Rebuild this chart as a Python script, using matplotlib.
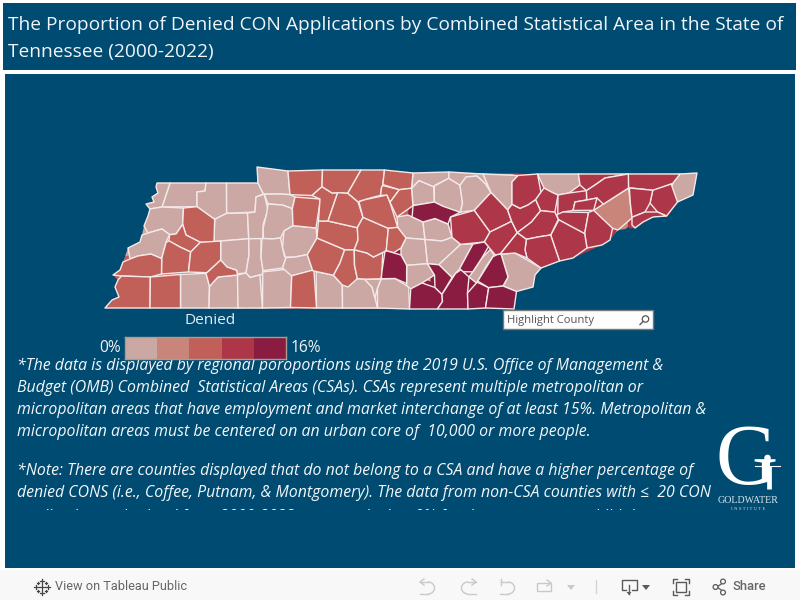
import numpy as np
import matplotlib
matplotlib.use('Agg')
import matplotlib.pyplot as plt
from matplotlib.collections import PolyCollection
from matplotlib.colors import ListedColormap, BoundaryNorm
from matplotlib.patches import Rectangle, Circle, Arc, Polygon

NAVY = '#004B71'
FONT = 'Open Sans'

title_lines = ['The Proportion of Denied CON Applications by Combined Statistical Area in the State of',
               'Tennessee (2000-2022)']
note_lines_1 = ['*The data is displayed by regional poroportions using the 2019 U.S. Office of Management &',
                'Budget (OMB) Combined  Statistical Areas (CSAs). CSAs represent multiple metropolitan or',
                'micropolitan areas that have employment and market interchange of at least 15%. Metropolitan &',
                'micropolitan areas must be centered on an urban core of  10,000 or more people.']
note_lines_2 = ['*Note: There are counties displayed that do not belong to a CSA and have a higher percentage of',
                'denied CONS (i.e., Coffee, Putnam, & Montgomery). The data from non-CSA counties with \u2264  20 CON']
note_cut_line = 'applications submitted from 2000-2022 were marked as 0% for the purpose to prohibit inaccurate'

# color bins, percent denied
bin_edges = [0, 3.2, 6.4, 9.6, 12.8, 16]
bin_colors = ['#CCA8A5', '#C98579', '#C16058', '#AD3649', '#8A1C41']

# estimated denied share for each group of counties below
denied_low = 1.6
denied_lowmid = 4.8
denied_mid = 8.0
denied_high = 11.2
denied_top = 14.4

# state border, keeps the filled county seams inside the map
state_outline = [(157,183),(257,183),(257,167),(288,171),(360,170),(413,173),(538,174),(697,173),(693,195),(678,202),
                 (668,216),(653,217),(635,228),(618,230),(610,240),(602,245),(573,258),(559,260),(542,268),(535,275),
                 (533,287),(518,291),(515,292),(514,309),(410,309),(105,308),(112,300),(119,297),(115,287),(118,280),
                 (113,275),(120,270),(123,262),(128,248),(140,242),(142,235),(144,226),(148,216),(150,209),(146,204),
                 (154,202),(152,197),(158,193),(156,187)]

counties_low = [
    [(170,183),(206,183),(205,191),(197,192),(197,207),(162,207)],
    [(157,183),(170,183),(162,207),(150,209),(146,204),(154,202),(152,197),(158,193),(156,187)],
    [(206,183),(226,183),(226,215),(215,219),(205,210),(197,205),(197,192),(205,191)],
    [(227,183),(258,183),(262,193),(256,197),(255,212),(227,212)],
    [(150,209),(162,207),(183,208),(182,223),(175,234),(169,234),(162,229),(148,233),(144,226),(148,216)],
    [(215,220),(227,213),(247,213),(247,239),(221,240),(214,242)],
    [(248,213),(255,212),(256,197),(265,194),(268,210),(262,223),(262,238),(248,238)],
    [(257,167),(288,171),(290,195),(280,193),(272,197),(265,194),(260,193),(258,183)],
    [(265,196),(280,195),(290,193),(295,197),(292,208),(282,205),(268,203)],
    [(268,205),(283,205),(292,209),(293,225),(285,230),(281,238),(272,238),(265,238),(261,228),(268,215)],
    [(148,233),(162,229),(170,235),(165,242),(162,258),(152,254),(145,257),(138,256),(130,259),(128,248),(140,242),(142,235)],
    [(181,273),(205,273),(208,285),(209,308),(181,308)],
    [(210,288),(218,277),(237,277),(237,308),(209,308)],
    [(221,240),(249,240),(249,253),(246,273),(237,273),(237,269),(227,267),(221,260)],
    [(251,238),(260,239),(261,257),(263,270),(260,275),(250,277),(246,272),(249,257)],
    [(239,275),(246,274),(250,278),(260,276),(262,308),(239,308)],
    [(263,272),(290,269),(292,275),(290,307),(263,308)],
    [(261,240),(266,239),(272,240),(280,238),(282,257),(286,258),(282,268),(263,270),(261,257)],
    [(283,232),(293,226),(315,228),(317,238),(310,248),(307,254),(295,257),(285,257),(280,248)],
    [(287,258),(295,257),(307,255),(312,270),(295,275),(288,277),(283,268)],
    [(317,272),(333,275),(335,277),(342,285),(342,308),(317,308)],
    [(343,287),(357,279),(363,279),(372,287),(375,298),(377,308),(343,308)],
    [(378,308),(378,288),(382,279),(395,279),(408,288),(409,309)],
    [(363,279),(370,281),(381,279),(377,288),(375,298),(372,287)],
    [(412,188),(418,181),(433,188),(433,202),(422,206),(412,205)],
    [(413,173),(448,172),(448,178),(435,183),(433,187),(420,180),(412,188)],
    [(450,172),(483,174),(492,192),(485,183),(477,176),(465,177),(460,185),(455,179),(450,178)],
    [(435,185),(448,179),(458,186),(462,203),(460,212),(450,212),(435,202)],
    [(462,185),(467,177),(477,176),(486,185),(490,193),(475,210),(461,212),(463,203)],
    [(483,174),(518,175),(512,182),(512,203),(508,210),(495,200),(490,192)],
    [(397,217),(408,215),(423,222),(423,238),(405,238),(398,227)],
    [(402,248),(408,238),(425,240),(427,263),(407,265),(402,255)],
    [(407,266),(427,264),(434,275),(422,283),(413,290),(406,285)],
    [(423,222),(435,218),(448,225),(452,238),(442,241),(425,240)],
    [(427,240),(442,241),(452,239),(460,245),(438,263),(427,264)],
    [(438,263),(460,245),(473,245),(458,268),(452,277),(440,266)],
    [(492,248),(494,255),(487,267),(477,285),(468,277),(477,268),(483,257)],
    [(502,255),(515,253),(540,268),(535,275),(533,287),(518,291),(503,285),(508,277)],
    [(538,174),(577,174),(580,185),(568,193),(558,195),(550,188),(543,188)],
    [(680,174),(697,173),(693,195),(678,202),(670,193),(675,183)],
]
counties_lowmid = [
    [(595,210),(629,190),(630,215),(633,219),(618,230),(612,225)],
]
counties_mid = [
    [(184,208),(197,208),(214,219),(214,242),(200,242),(186,235),(183,225)],
    [(183,225),(186,235),(200,242),(192,252),(180,247),(170,240),(170,235),(177,234)],
    [(169,240),(180,247),(190,252),(188,272),(162,274),(162,258),(165,242)],
    [(130,259),(138,256),(150,254),(161,260),(161,274),(150,277),(142,275),(123,276),(113,275),(120,270),(123,262)],
    [(120,276),(150,277),(149,308),(105,308),(112,300),(119,297),(115,287),(118,280)],
    [(151,277),(180,276),(180,308),(151,308)],
    [(201,243),(220,243),(220,260),(208,272),(189,272),(190,252)],
    [(221,260),(227,267),(237,269),(237,275),(218,277),(213,280),(212,287),(208,285),(205,275),(210,271)],
    [(292,276),(312,271),(315,272),(316,308),(291,308)],
    [(308,255),(312,270),(333,274),(340,263),(344,250),(317,238)],
    [(345,250),(354,250),(354,267),(357,278),(348,287),(342,283),(333,275),(340,263)],
    [(355,251),(367,253),(372,257),(382,253),(382,272),(380,279),(367,279),(358,279),(355,263)],
    [(317,222),(328,222),(357,228),(358,240),(353,248),(345,249),(317,238)],
    [(293,209),(295,197),(320,199),(320,205),(317,228),(293,226)],
    [(288,171),(322,170),(322,187),(312,195),(290,196)],
    [(322,187),(332,193),(337,193),(328,220),(320,220),(320,199),(312,196),(317,188)],
    [(323,170),(360,170),(352,187),(347,195),(338,192),(332,193),(322,186)],
    [(362,170),(384,170),(383,185),(381,188),(380,195),(375,196),(362,202),(357,202),(348,192),(353,183)],
    [(338,193),(348,193),(357,202),(363,217),(357,227),(337,221),(328,221)],
    [(363,218),(388,228),(387,250),(375,257),(367,253),(355,250),(358,240),(358,228)],
    [(360,202),(365,198),(387,195),(390,203),(397,227),(388,228),(363,217)],
    [(381,188),(383,185),(398,190),(390,202),(387,195),(381,196)],
    [(385,170),(413,173),(410,188),(398,189),(384,184)],
    [(402,190),(412,189),(412,205),(397,217),(390,202)],
    [(389,229),(398,228),(405,238),(400,248),(393,255),(387,250)],
]
counties_high = [
    [(451,217),(473,211),(490,232),(482,242),(462,243),(452,235)],
    [(475,210),(492,193),(508,210),(512,222),(490,232)],
    [(490,232),(510,222),(518,233),(500,253),(495,255),(486,242)],
    [(518,176),(537,174),(542,193),(535,200),(528,205),(520,208),(512,203),(512,182)],
    [(512,207),(520,209),(528,205),(535,200),(540,210),(531,222),(518,232),(513,220),(507,210)],
    [(537,199),(545,188),(552,193),(558,195),(555,210),(542,210)],
    [(580,174),(627,174),(605,178),(595,185),(587,190),(580,185)],
    [(627,174),(680,174),(672,183),(655,190),(652,188),(633,187),(627,187)],
    [(595,185),(605,178),(631,174),(627,187),(602,202),(597,198),(587,200),(587,192)],
    [(652,191),(670,184),(677,202),(668,216),(658,212),(650,203)],
    [(631,188),(652,192),(650,203),(643,212),(632,217),(630,203)],
    [(633,218),(647,212),(657,212),(665,216),(653,217),(643,222),(635,228),(632,225)],
    [(558,195),(570,193),(585,190),(587,200),(575,202),(573,210),(563,212),(557,217)],
    [(575,202),(586,200),(597,198),(593,210),(573,211)],
    [(558,215),(563,212),(588,212),(585,233),(572,230),(558,219)],
    [(589,213),(593,211),(612,230),(610,240),(602,245),(587,248),(584,233)],
    [(560,222),(585,235),(587,248),(573,258),(560,262),(552,235)],
    [(540,212),(555,212),(558,220),(550,234),(538,237),(527,238),(518,232),(532,222)],
    [(527,240),(538,237),(550,236),(559,260),(542,268),(527,258),(525,250)],
    [(515,234),(525,240),(525,250),(527,258),(515,253),(500,253),(508,245)],
]
counties_top = [
    [(383,251),(388,252),(400,255),(406,265),(407,282),(395,278),(382,278),(382,270)],
    [(410,290),(422,283),(435,288),(442,295),(442,303),(437,309),(410,309)],
    [(429,264),(440,267),(452,278),(442,293),(435,287),(435,275)],
    [(442,295),(455,273),(462,270),(470,277),(467,293),(468,309),(438,309),(443,300)],
    [(473,243),(485,242),(487,248),(480,260),(473,272),(465,273),(459,268)],
    [(468,293),(477,282),(488,288),(485,307),(468,309)],
    [(478,280),(490,257),(497,255),(502,255),(508,277),(503,286),(490,287)],
    [(488,288),(503,287),(515,292),(514,309),(486,309)],
    [(415,207),(435,202),(442,208),(460,213),(450,217),(448,223),(435,219),(423,222),(413,215)],
]


def px(size):
    # pixel height to points at 100 dpi
    return size * 0.72


def snap_shapes(shapes, tol=5.0, edge_tol=3.5):
    # the hand traced outlines don't line up exactly, pull shared borders together
    shapes = [np.array(s, dtype=float) for s in shapes]
    owner = np.concatenate([[i] * len(s) for i, s in enumerate(shapes)])
    pts = np.concatenate(shapes)
    moved = pts.copy()
    for i, p in enumerate(pts):
        near = (np.hypot(*(pts - p).T) < tol) & (owner != owner[i])
        if near.any():
            moved[i] = np.vstack([pts[near], p]).mean(axis=0)
    out = np.split(moved, np.cumsum([len(s) for s in shapes])[:-1])
    out = [s.copy() for s in out]
    for i, s in enumerate(out):
        for k, p in enumerate(s):
            best = None
            for j, other in enumerate(out):
                if j == i:
                    continue
                a = other
                b = np.roll(other, -1, axis=0)
                d = b - a
                t = np.clip(((p - a) * d).sum(axis=1) / np.maximum((d * d).sum(axis=1), 1e-9), 0, 1)
                q = a + d * t[:, None]
                dist = np.hypot(*(q - p).T)
                m = dist.argmin()
                if dist[m] < edge_tol and (best is None or dist[m] < best[0]):
                    best = (dist[m], q[m])
            if best is not None:
                s[k] = best[1]
    return out


fig = plt.figure(figsize=(8, 6), dpi=100, facecolor='white')
ax = fig.add_axes([0, 0, 1, 1])
ax.set_xlim(0, 800)
ax.set_ylim(600, 0)
ax.axis('off')

# page blocks
ax.add_patch(Rectangle((3, 3), 793, 67, color=NAVY, lw=0))
ax.add_patch(Rectangle((5, 74), 790, 494, color=NAVY, lw=0))
ax.add_patch(Rectangle((0, 570), 800, 30, color='#F8F8F8', lw=0))

for i, line in enumerate(title_lines):
    ax.text(8, 25 + i * 27, line, color='#F2F5F7', fontsize=px(19.1), family=FONT, va='center')

# map
county_groups = [(counties_low, denied_low), (counties_lowmid, denied_lowmid), (counties_mid, denied_mid),
                 (counties_high, denied_high), (counties_top, denied_top)]
shapes = []
values = []
for group, denied in county_groups:
    shapes += group
    values += [denied] * len(group)
shapes = snap_shapes(shapes)

cmap = ListedColormap(bin_colors)
norm = BoundaryNorm(bin_edges, cmap.N)
state_clip = Polygon(state_outline, closed=True, transform=ax.transData)

# wide strokes in the county color close what is left of the seams
seams = PolyCollection(shapes, array=np.array(values), cmap=cmap, norm=norm, linewidths=6, joinstyle='round')
seams.set_edgecolor('face')
ax.add_collection(seams)
seams.set_clip_path(state_clip)

polys = PolyCollection(shapes, array=np.array(values), cmap=cmap, norm=norm,
                       edgecolors='#F3E9E8', linewidths=1.0, joinstyle='round')
ax.add_collection(polys)

# legend
ax.text(210.5, 320.5, 'Denied', color='#E6EDF1', fontsize=px(15.4), family=FONT, ha='center', va='center')
ax.text(120.5, 348, '0%', color='#F2F5F7', fontsize=px(15.5), family=FONT, ha='right', va='center')
ax.text(290.5, 348, '16%', color='#F2F5F7', fontsize=px(15.5), family=FONT, ha='left', va='center')
leg = fig.add_axes([125 / 800, 1 - 359 / 600, 161 / 800, 22 / 600])
leg.pcolormesh(bin_edges, [0, 1], [[(a + b) / 2 for a, b in zip(bin_edges[:-1], bin_edges[1:])]], cmap=cmap, norm=norm)
leg.set_xticks([])
leg.set_yticks([])
for s in leg.spines.values():
    s.set_color('#A89E8E')
    s.set_linewidth(1)

# search box
ax.add_patch(Rectangle((503, 310), 150, 19, facecolor='white', edgecolor='#777777', lw=1, zorder=3))
ax.text(507, 320, 'Highlight County', color='#555555', fontsize=px(11.3), family=FONT, va='center', zorder=4)
ax.add_patch(Circle((645.5, 319), 3.2, fill=False, edgecolor='#555555', lw=0.9, zorder=4))
ax.plot([643, 640], [321.5, 324.5], color='#555555', lw=1, zorder=4)

# notes, the last line is cut off by the text box bottom like in the dashboard
note_clip = Rectangle((5, 355), 712, 155, transform=ax.transData)
note_rows = [(line, 366 + i * 22) for i, line in enumerate(note_lines_1)]
note_rows += [(line, 471 + i * 22) for i, line in enumerate(note_lines_2)]
note_rows.append((note_cut_line, 517))
for line, y in note_rows:
    t = ax.text(17, y, line, color='#F4F7F9', fontsize=px(15.9), family=FONT, style='italic', va='center')
    t.set_clip_on(True)
    t.set_clip_path(note_clip)

# logo
ax.text(747, 463, 'G', color='white', fontsize=62, family='Liberation Serif', ha='center', va='center')
ax.add_patch(Rectangle((756, 453), 24, 29, color=NAVY, lw=0))
ax.add_patch(Circle((767.5, 458), 3.3, color='white', lw=0))
ax.plot([755, 780], [466, 466], color='white', lw=0.8)
ax.plot([768.5, 768.5], [466, 489], color='white', lw=3.4, solid_capstyle='butt')
ax.text(748.5, 500.5, 'GOLDWATER', color='#DDE6EB', fontsize=7.2, family='Liberation Serif', ha='center', va='center')
ax.text(748.5, 508.5, 'I N S T I T U T E', color='#C9D6DE', fontsize=3.6, family='Liberation Serif', ha='center', va='center')

# toolbar
ax.text(55, 587, 'View on Tableau Public', color='#666666', fontsize=px(12.8), family='Roboto', va='center')
ax.text(749, 587, 'Share', color='#666666', fontsize=px(13), family='Roboto', weight='medium', va='center', ha='center')
for cx, cy, r in [(42, 587, 3), (36, 587, 1.8), (48, 587, 1.8), (42, 581, 1.8), (42, 593, 1.8),
                  (38, 583, 1.3), (46, 583, 1.3), (38, 591, 1.3), (46, 591, 1.3)]:
    ax.plot([cx - r, cx + r], [cy, cy], color='#444444', lw=0.9)
    ax.plot([cx, cx], [cy - r, cy + r], color='#444444', lw=0.9)

ICON = '#C9C9C9'
ax.add_patch(Arc((428, 588), 13, 12, theta1=-90, theta2=90, color=ICON, lw=1))
ax.plot([420, 428], [582, 582], color=ICON, lw=1)
ax.plot([420, 428], [594, 594], color=ICON, lw=1)
ax.plot([424, 420, 424], [579, 582, 585], color=ICON, lw=1)
ax.add_patch(Arc((468, 588), 13, 12, theta1=90, theta2=270, color=ICON, lw=1))
ax.plot([468, 476], [582, 582], color=ICON, lw=1)
ax.plot([468, 476], [594, 594], color=ICON, lw=1)
ax.plot([472, 476, 472], [579, 582, 585], color=ICON, lw=1)
ax.add_patch(Arc((508, 588), 13, 12, theta1=-90, theta2=90, color=ICON, lw=1))
ax.plot([501, 501], [579, 585], color=ICON, lw=1)
ax.plot([501, 508], [582, 582], color=ICON, lw=1)
ax.plot([500, 508], [594, 594], color=ICON, lw=1)
ax.add_patch(Rectangle((537, 583), 14, 8, fill=False, edgecolor=ICON, lw=1))
ax.plot([547, 551, 547], [580, 583, 586], color=ICON, lw=1)
ax.fill([567, 575, 571], [585, 585, 590], color=ICON, lw=0)
ax.plot([595.5, 595.5], [580, 593], color='#D5D5D5', lw=1)

DARK = '#5A5A5A'
ax.plot([626, 622, 622, 637, 637, 632], [590, 590, 580, 580, 590, 590], color=DARK, lw=1)
ax.plot([629, 629], [585, 594], color=DARK, lw=1)
ax.fill([626.5, 631.5, 629], [592, 592, 595], color=DARK, lw=0)
ax.fill([642, 650, 646], [585, 585, 590], color=DARK, lw=0)
ax.add_patch(Rectangle((676, 582), 10, 10, fill=False, edgecolor=DARK, lw=1))
for x0, y0, dx, dy in [(673, 579, 1, 1), (689, 579, -1, 1), (673, 595, 1, -1), (689, 595, -1, -1)]:
    ax.plot([x0 + 4 * dx, x0, x0], [y0, y0, y0 + 4 * dy], color=DARK, lw=1)
ax.plot([717, 724], [587, 582], color=DARK, lw=0.9)
ax.plot([717, 724], [587, 592], color=DARK, lw=0.9)
for cx, cy in [(715.5, 587), (723, 581.5), (723, 592.5)]:
    ax.add_patch(Circle((cx, cy), 2.4, facecolor='#F8F8F8', edgecolor=DARK, lw=0.9, zorder=3))

plt.savefig('out.png', dpi=100, facecolor=fig.get_facecolor())
